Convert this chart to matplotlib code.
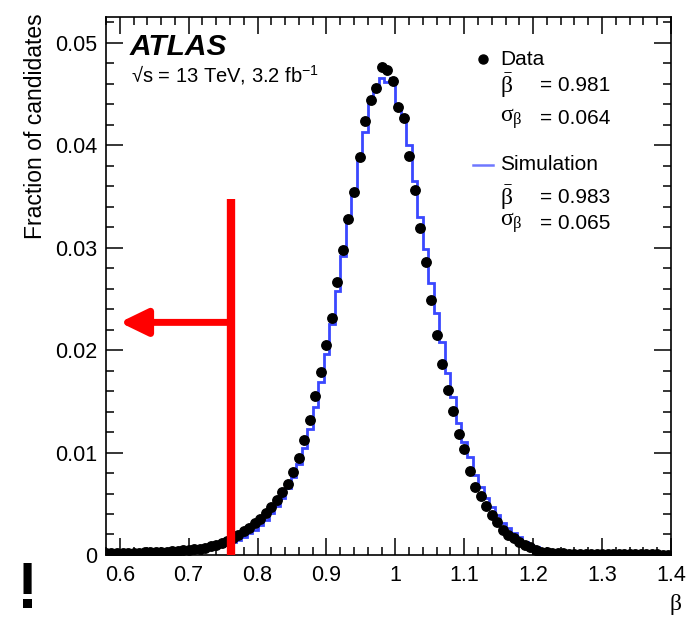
import numpy as np
import matplotlib
matplotlib.use('Agg')
import matplotlib.pyplot as plt
from matplotlib.ticker import MultipleLocator, FuncFormatter

plt.rcParams['font.family'] = ['Liberation Sans', 'DejaVu Sans']
plt.rcParams['mathtext.fontset'] = 'custom'
plt.rcParams['mathtext.rm'] = 'Liberation Serif'
plt.rcParams['mathtext.it'] = 'Liberation Serif'
plt.rcParams['mathtext.bf'] = 'Liberation Serif:bold'

# binning of the beta histogram
bin_lo = 0.576
bin_width = 0.008

# data points (fraction of candidates per bin)
data_frac = [
    0.00018, 0.00019, 0.00020, 0.00021, 0.00022, 0.00023, 0.00024, 0.00026,
    0.00028, 0.00030, 0.00032, 0.00034, 0.00037, 0.00040, 0.00044, 0.00048,
    0.00054, 0.00062, 0.00072, 0.00085, 0.00100, 0.00118, 0.00140, 0.00165,
    0.00195, 0.00230, 0.00268, 0.00310, 0.00355, 0.00405, 0.00470, 0.00540,
    0.00610, 0.00690, 0.00810, 0.00950, 0.01120, 0.01320, 0.01550, 0.01790,
    0.02050, 0.02310, 0.02660, 0.02980, 0.03278, 0.03538, 0.03884, 0.04238,
    0.04443, 0.04558, 0.04763, 0.04730, 0.04622, 0.04372, 0.04265, 0.03896,
    0.03558, 0.03190, 0.02864, 0.02490, 0.02148, 0.01865, 0.01611, 0.01409,
    0.01182, 0.01038, 0.00820, 0.00667, 0.00579, 0.00479, 0.00388, 0.00319,
    0.00244, 0.00195, 0.00163, 0.00130, 0.00098, 0.00075, 0.00049, 0.00032,
    0.00025, 0.00020, 0.00017, 0.00015, 0.00013, 0.00012, 0.00011, 0.00010,
    0.00009, 0.00009, 0.00008, 0.00008, 0.00007, 0.00007, 0.00006, 0.00006,
    0.00006, 0.00005, 0.00005, 0.00005, 0.00005, 0.00004, 0.00004,
]

# simulation histogram (same bins)
sim_frac = [
    0.00010, 0.00010, 0.00011, 0.00011, 0.00012, 0.00013, 0.00014, 0.00015,
    0.00016, 0.00018, 0.00020, 0.00022, 0.00025, 0.00028, 0.00032, 0.00036,
    0.00041, 0.00048, 0.00056, 0.00066, 0.00078, 0.00092, 0.00108, 0.00128,
    0.00150, 0.00178, 0.00210, 0.00248, 0.00292, 0.00345, 0.00405, 0.00475,
    0.00555, 0.00650, 0.00760, 0.00890, 0.01040, 0.01230, 0.01440, 0.01690,
    0.01960, 0.02250, 0.02580, 0.02920, 0.03300, 0.03530, 0.03890, 0.04130,
    0.04440, 0.04570, 0.04655, 0.04620, 0.04650, 0.04370, 0.04250, 0.04000,
    0.03650, 0.03300, 0.02985, 0.02653, 0.02360, 0.02083, 0.01774, 0.01546,
    0.01292, 0.01106, 0.00960, 0.00781, 0.00667, 0.00554, 0.00472, 0.00391,
    0.00316, 0.00261, 0.00218, 0.00173, 0.00130, 0.00098, 0.00075, 0.00055,
    0.00042, 0.00032, 0.00025, 0.00020, 0.00016, 0.00014, 0.00012, 0.00010,
    0.00009, 0.00008, 0.00007, 0.00007, 0.00006, 0.00006, 0.00005, 0.00005,
    0.00005, 0.00004, 0.00004, 0.00004, 0.00004, 0.00003, 0.00003,
]

data_stats = ['0.981', '0.064']
sim_stats = ['0.983', '0.065']
beta_cut = 0.762

n = len(data_frac)
edges = bin_lo + bin_width * np.arange(n + 1)
centers = 0.5 * (edges[:-1] + edges[1:])

fig = plt.figure(figsize=(6.89, 6.21), dpi=100)
ax = fig.add_axes([0.1538, 0.1063, 0.8200, 0.8663])

ax.stairs(sim_frac, edges, color='#3a48ff', lw=2.0, zorder=2)
ax.plot(centers, data_frac, 'o', color='black', ms=6.8, zorder=3, clip_on=True)

ax.set_xlim(0.58, 1.4)
ax.set_ylim(0, 0.0525)

ax.xaxis.set_major_locator(MultipleLocator(0.1))
ax.xaxis.set_minor_locator(MultipleLocator(0.02))
ax.yaxis.set_major_locator(MultipleLocator(0.01))
ax.yaxis.set_minor_locator(MultipleLocator(0.002))
ax.xaxis.set_major_formatter(FuncFormatter(lambda v, p: f'{v:g}'))
ax.yaxis.set_major_formatter(FuncFormatter(lambda v, p: f'{v:g}'))
ax.tick_params(which='both', direction='in', top=True, right=True, width=1.1)
ax.tick_params(which='major', length=12, labelsize=15.5)
ax.tick_params(axis='x', which='major', pad=7)
ax.tick_params(axis='y', which='major', pad=6)
ax.tick_params(which='minor', length=6)
for s in ax.spines.values():
    s.set_linewidth(1.2)

fig.text(0.051, 0.979, 'Fraction of candidates', rotation=90, ha='center',
         va='top', fontsize=16.5)
fig.text(0.990, 0.018, r'$\beta$', ha='right', va='baseline', fontsize=17)

ax.text(0.042, 0.944, 'ATLAS', transform=ax.transAxes, fontsize=21.5,
        fontweight='bold', fontstyle='italic', va='center', ha='left')
ax.text(0.044, 0.892, '√s = 13 TeV, 3.2 fb$\\mathregular{^{-1}}$',
        transform=ax.transAxes, fontsize=14.5, va='center', ha='left')

# legend
ax.plot([0.6667], [0.9214], 'o', color='black', ms=6.5, transform=ax.transAxes)
ax.text(0.697, 0.921, 'Data', transform=ax.transAxes, fontsize=15, va='center')
ax.text(0.697, 0.873, r'$\bar{\beta}$', transform=ax.transAxes, fontsize=17, va='center')
ax.text(0.768, 0.873, '= ' + data_stats[0], transform=ax.transAxes, fontsize=15, va='center')
ax.text(0.697, 0.812, r'$\sigma_{\beta}$', transform=ax.transAxes, fontsize=17, va='center')
ax.text(0.768, 0.812, '= ' + data_stats[1], transform=ax.transAxes, fontsize=15, va='center')

ax.plot([0.650, 0.685], [0.725, 0.725], color='#6f78ff', lw=1.8, transform=ax.transAxes)
ax.text(0.697, 0.725, 'Simulation', transform=ax.transAxes, fontsize=15, va='center')
ax.text(0.697, 0.665, r'$\bar{\beta}$', transform=ax.transAxes, fontsize=17, va='center')
ax.text(0.768, 0.665, '= ' + sim_stats[0], transform=ax.transAxes, fontsize=15, va='center')
ax.text(0.697, 0.617, r'$\sigma_{\beta}$', transform=ax.transAxes, fontsize=17, va='center')
ax.text(0.768, 0.617, '= ' + sim_stats[1], transform=ax.transAxes, fontsize=15, va='center')

# red cut annotation
ax.plot([beta_cut, beta_cut], [0, 0.0347], color='red', lw=6,
        solid_capstyle='butt', zorder=5)
ax.annotate('', xy=(0.600, 0.0227), xytext=(beta_cut, 0.0227),
            arrowprops=dict(arrowstyle='-|>,head_length=1.65,head_width=0.8',
                            color='red', lw=5, shrinkA=0, shrinkB=0),
            zorder=5)

fig.text(0.040, 0.0, '!', fontsize=46, fontweight='bold', ha='center', va='bottom')

fig.savefig('out.png', dpi=100)
